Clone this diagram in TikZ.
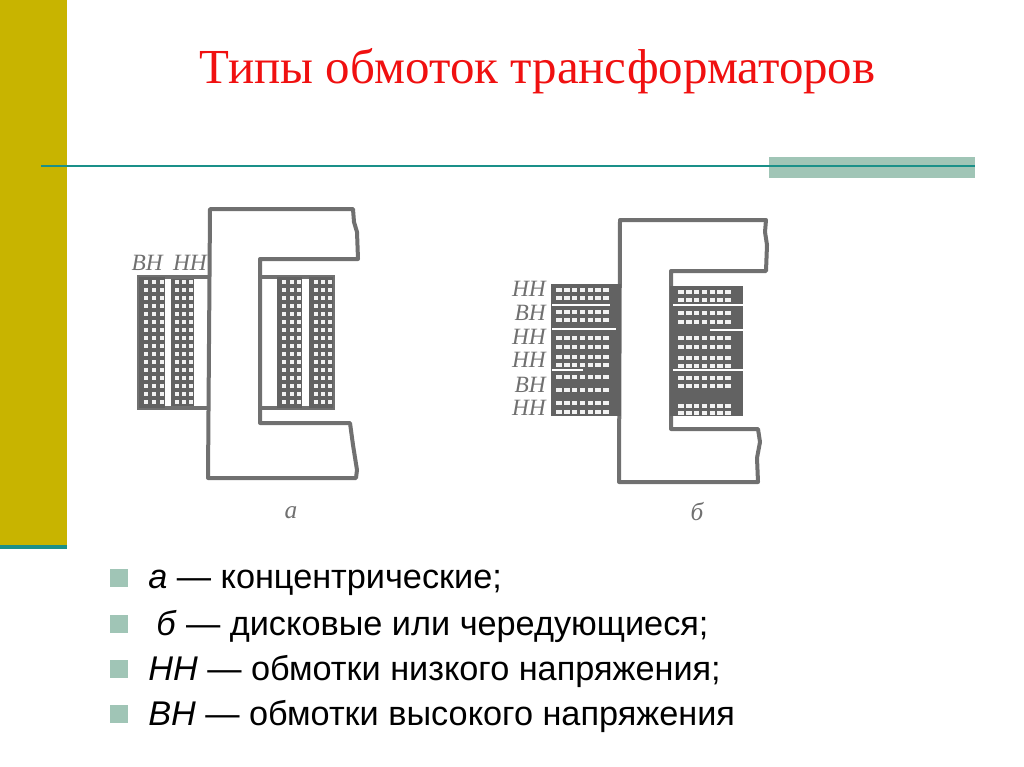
\documentclass[tikz,border=0pt]{standalone}
\usepackage{fontspec}
\setmainfont{Liberation Serif}
\newfontfamily\bulletfont{Liberation Sans}
\definecolor{olivebar}{HTML}{C8B400}
\definecolor{tealline}{HTML}{1A9089}
\definecolor{sagebar}{HTML}{A0C5B6}
\definecolor{titlered}{HTML}{F01010}
\definecolor{printgray}{HTML}{707070}
\definecolor{inkgray}{HTML}{626262}
\tikzset{
  coreline/.style={draw=printgray,line width=3pt,line join=round,fill=white},
  boxline/.style={draw=printgray,line width=2.6pt},
  windfill/.style={fill=inkgray},
  gapline/.style={draw=white,line width=1.1pt},
  hole/.style={fill=white!95!black},
  labeltext/.style={font=\fontsize{17.5}{17.5}\selectfont\itshape,text=printgray,inner sep=0pt,anchor=base east},
  bullettext/.style={font=\bulletfont\fontsize{25.7}{25.7}\selectfont,text=black,inner sep=0pt,anchor=base west},
  bulletmark/.style={fill=sagebar}
}
% square dots: x0,dx,nx,y0,dy,ny
\newcommand{\dotgrid}[6]{%
  \foreach \ii in {1,...,#3}{\foreach \jj in {1,...,#6}{%
    \fill[hole] ({#1+(\ii-1)*#2-2},{#4+(\jj-1)*#5-2}) rectangle ++(4,4);}}}
% dash row: x0,dx,nx,y
\newcommand{\dashrow}[4]{%
  \foreach \ii in {1,...,#3}{%
    \fill[hole] ({#1+(\ii-1)*#2-2.7},{#4-1.6}) rectangle ++(5.4,3.2);}}
\begin{document}
\begin{tikzpicture}[x=0.75pt,y=-0.75pt]
\useasboundingbox (0,0) rectangle (1024,767);
\fill[white] (0,0) rectangle (1024,767);
% slide frame
\fill[olivebar] (0,0) rectangle (67,545);
\fill[tealline] (0,545) rectangle (67,549);
\fill[sagebar] (769,157) rectangle (975,178);
\coordinate (ruleL) at (41,165.5);
\coordinate (ruleR) at (975,165.5);
\draw[tealline,line width=1.5pt] (ruleL) -- (ruleR);
\node[inner sep=0pt,anchor=base,text=titlered,font=\fontsize{36.7}{36.7}\selectfont] (title) at (537.5,84) {Типы обмоток трансформаторов};

% ---------- figure a ----------
\draw[coreline] (210,209) -- (353,209) -- (354,222) -- (357,232) -- (358,259) -- (260,259) -- (260,423) -- (350,423) -- (353,445) -- (357,470) -- (356,478) -- (208,478) -- cycle;
% left windings
\draw[boxline] (208,277) -- (139,277) -- (139,408) -- (208,408);
\fill[windfill] (139,277) rectangle (165,408);
\fill[windfill] (171,277) rectangle (194,408);
\draw[boxline] (165,277) -- (194,277) (165,408) -- (194,408);
\dotgrid{146}{8}{3}{282}{8}{16}
\dotgrid{177}{7}{3}{282}{8}{16}
% right windings
\draw[boxline] (261,277) -- (333,277) -- (333,408) -- (261,408);
\fill[windfill] (277,277) rectangle (302,408);
\fill[windfill] (309,277) rectangle (333,408);
\dotgrid{284}{7.5}{3}{282}{8}{16}
\dotgrid{316}{7}{3}{282}{8}{16}
\node[labeltext] (aBH) at (163,270) {ВН};
\node[labeltext] (aNH) at (207,270) {НН};
\node[inner sep=0pt,anchor=base,text=printgray,font=\fontsize{19}{19}\selectfont\itshape] (aCap) at (291,518) {а};

% ---------- figure b ----------
\draw[coreline] (620,220) -- (766,220) -- (765,232) -- (767,245) -- (766,271) -- (671,271) -- (671,429) -- (758,429) -- (760,442) -- (757,458) -- (758,482) -- (619,482) -- cycle;
% left disks
\fill[windfill] (551,284) rectangle (621,416);
\fill[windfill] (670,286) rectangle (743,416);
\dashrow{559}{7.8}{7}{290}
\dashrow{559}{7.8}{7}{298}
\dashrow{559}{7.8}{7}{312}
\dashrow{559}{7.8}{7}{320}
\dashrow{559}{7.8}{7}{338}
\dashrow{559}{7.8}{7}{347}
\dashrow{559}{7.8}{7}{357}
\dashrow{559}{7.8}{7}{365}
\dashrow{559}{7.8}{7}{377}
\dashrow{559}{7.8}{7}{390}
\dashrow{559}{7.8}{7}{403}
\dashrow{559}{7.8}{7}{412}
\dashrow{681}{7.8}{7}{292}
\dashrow{681}{7.8}{7}{300}
\dashrow{681}{7.8}{7}{313}
\dashrow{681}{7.8}{7}{322}
\dashrow{681}{7.8}{7}{338}
\dashrow{681}{7.8}{7}{347}
\dashrow{681}{7.8}{7}{358}
\dashrow{681}{7.8}{7}{366}
\dashrow{681}{7.8}{7}{378}
\dashrow{681}{7.8}{7}{386}
\dashrow{681}{7.8}{7}{406}
\dashrow{681}{7.8}{7}{413}
\draw[gapline] (552,305) -- (610,305);
\draw[gapline] (552,329) -- (616,329);
\draw[gapline] (552,370) -- (583,370);
\draw[gapline] (673,305) -- (743,305);
\draw[gapline] (710,330) -- (743,330);
\draw[gapline] (673,370) -- (743,370);
\node[labeltext] (b1) at (546,296) {НН};
\node[labeltext] (b2) at (546,320) {ВН};
\node[labeltext] (b3) at (546,344) {НН};
\node[labeltext] (b4) at (546,367) {НН};
\node[labeltext] (b5) at (546,392) {ВН};
\node[labeltext] (b6) at (546,415) {НН};
\node[inner sep=0pt,anchor=base,text=printgray,font=\fontsize{19}{19}\selectfont\itshape] (bCap) at (697,520) {б};

% ---------- bullets ----------
\fill[bulletmark] (110,569) rectangle (128,587);
\fill[bulletmark] (110,614.5) rectangle (128,632.5);
\fill[bulletmark] (110,660) rectangle (128,678);
\fill[bulletmark] (110,705) rectangle (128,723);
\node[bullettext] (t1) at (148,588) {\textit{а} — концентрические;};
\node[bullettext] (t2) at (156,635) {\textit{б} — дисковые или чередующиеся;};
\node[bullettext] (t3) at (148,680) {\textit{НН} — обмотки низкого напряжения;};
\node[bullettext] (t4) at (148,725) {\textit{ВН} — обмотки высокого напряжения};
\end{tikzpicture}
\end{document}
